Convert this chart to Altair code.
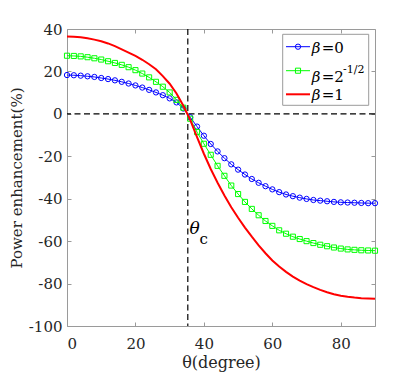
import altair as alt
import pandas as pd

# ---- data ----
theta = list(range(0, 91, 2))
beta0 = [18.3, 18.2, 18.0, 17.7, 17.4, 16.9, 16.4, 15.8, 15.1, 14.3,
         13.4, 12.4, 11.3, 10.1, 8.8, 7.3, 5.4, 2.5, -1.6, -6.0,
         -10.3, -14.2, -17.7, -20.9, -23.8, -26.3, -28.6, -30.7, -32.5, -34.1,
         -35.6, -36.9, -38.0, -38.8, -39.5, -40.1, -40.6, -40.9, -41.2, -41.5,
         -41.7, -41.8, -41.9, -42.0, -42.1, -42.1]
beta_half = [27.4, 27.3, 27.1, 26.7, 26.2, 25.6, 24.8, 24.0, 23.1, 22.0,
             20.6, 19.0, 17.2, 15.1, 12.8, 10.1, 6.6, 2.9, -2.3, -8.6,
             -14.1, -19.3, -24.5, -29.2, -33.8, -37.8, -41.5, -44.8, -47.8, -50.5,
             -52.8, -54.9, -56.5, -57.9, -59.0, -60.0, -60.9, -61.7, -62.4, -63.0,
             -63.5, -63.9, -64.1, -64.3, -64.4, -64.5]
beta1 = [36.5, 36.4, 36.1, 35.6, 35.0, 34.2, 33.2, 31.9, 30.4, 28.9,
         27.3, 25.5, 23.4, 21.0, 17.8, 14.2, 9.6, 3.8, -2.8, -11.0,
         -18.8, -26.0, -32.5, -38.5, -44.0, -49.0, -53.6, -57.9, -62.0, -65.7,
         -69.1, -72.0, -74.5, -76.7, -78.6, -80.3, -81.7, -83.0, -84.1, -85.0,
         -85.7, -86.2, -86.6, -86.9, -87.0, -87.1]

theta_c = [35.3]
zero_line = [0]
ann_theta = [35.8]      # position of the "θ" of θc
ann_theta_v = [-56.8]
ann_c = [38.7]          # position of the subscript "c"
ann_c_v = [-61.5]

x_ticks = [0, 20, 40, 60, 80]
y_ticks = [-100, -80, -60, -40, -20, 0, 20, 40]
legend_greek = ["β", "β", "β"]
legend_rest = ["=0", "=2", "=1"]
legend_sup = ["-1/2"]

# ---- styling ----
W, H = 308, 297
FONT = "DejaVu Serif"
GRAY = "#9a9a9a"
TXT = "#262626"
BLUE, GREEN, RED = "#0000ff", "#00ff00", "#ff0000"

xs = alt.Scale(domain=[0, 90], nice=False, zero=False)
ys = alt.Scale(domain=[-100, 40], nice=False, zero=False)

main_x = alt.Axis(orient="bottom", values=x_ticks, ticks=False, domain=False, grid=False,
                  labelFont=FONT, labelFontSize=15, labelColor=TXT, labelPadding=10,
                  labelExpr="'' + datum.value",
                  title="θ(degree)", titleFont=FONT, titleFontSize=16,
                  titleFontWeight="normal", titleColor=TXT, titleY=41,
                  titleBaseline="alphabetic")
main_y = alt.Axis(orient="left", values=y_ticks, ticks=False, domain=False, grid=False,
                  labelFont=FONT, labelFontSize=15, labelColor=TXT, labelPadding=5,
                  labelExpr="'' + datum.value",
                  title="Power enhancement(%)", titleFont=FONT, titleFontSize=15,
                  titleFontWeight="normal", titleColor=TXT, titleX=-46, titleY=H / 2,
                  titleAngle=270, titleAlign="center", titleBaseline="alphabetic")


def tick_axis(orient, values, offset):
    return alt.Axis(orient=orient, offset=offset, values=values, labels=False,
                    domain=False, grid=False, ticks=True, tickSize=4,
                    tickColor=GRAY, title="")


df0 = pd.DataFrame({"theta": theta, "v": beta0})
df1 = pd.DataFrame({"theta": theta, "v": beta_half})
df2 = pd.DataFrame({"theta": theta, "v": beta1})

blue_line = alt.Chart(df0).mark_line(color=BLUE, strokeWidth=1).encode(
    x=alt.X("theta:Q", scale=xs, axis=main_x),
    y=alt.Y("v:Q", scale=ys, axis=main_y))
blue_pts = alt.Chart(df0).mark_point(shape="circle", filled=False, color=BLUE,
                                     size=28, strokeWidth=1, opacity=1).encode(
    x=alt.X("theta:Q", scale=xs, axis=None),
    y=alt.Y("v:Q", scale=ys, axis=None))
green_line = alt.Chart(df1).mark_line(color=GREEN, strokeWidth=1).encode(
    x=alt.X("theta:Q", scale=xs, axis=tick_axis("top", x_ticks, -H)),
    y=alt.Y("v:Q", scale=ys, axis=tick_axis("right", y_ticks, -W)))
green_pts = alt.Chart(df1).mark_point(shape="square", filled=False, color=GREEN,
                                      size=26, strokeWidth=1, opacity=1).encode(
    x=alt.X("theta:Q", scale=xs, axis=None),
    y=alt.Y("v:Q", scale=ys, axis=None))
red_line = alt.Chart(df2).mark_line(color=RED, strokeWidth=2).encode(
    x=alt.X("theta:Q", scale=xs, axis=tick_axis("bottom", x_ticks, -H)),
    y=alt.Y("v:Q", scale=ys, axis=tick_axis("left", y_ticks, -W)))

vrule = alt.Chart(pd.DataFrame({"t": theta_c})).mark_rule(
    color="black", strokeWidth=1.2, strokeDash=[6, 3.5]).encode(
    x=alt.X("t:Q", scale=xs, axis=None))
hrule = alt.Chart(pd.DataFrame({"z": zero_line})).mark_rule(
    color="black", strokeWidth=1.2, strokeDash=[6, 3.5]).encode(
    y=alt.Y("z:Q", scale=ys, axis=None))

ann1 = alt.Chart(pd.DataFrame({"x": ann_theta, "y": ann_theta_v, "s": ["θ"]})).mark_text(
    align="left", baseline="alphabetic", font=FONT, fontSize=17, fontStyle="italic",
    color="black").encode(
    x=alt.X("x:Q", scale=xs, axis=None), y=alt.Y("y:Q", scale=ys, axis=None), text="s:N")
ann2 = alt.Chart(pd.DataFrame({"x": ann_c, "y": ann_c_v, "s": ["c"]})).mark_text(
    align="left", baseline="alphabetic", font=FONT, fontSize=15,
    color="black").encode(
    x=alt.X("x:Q", scale=xs, axis=None), y=alt.Y("y:Q", scale=ys, axis=None), text="s:N")

# ---- legend (drawn in pixel layout coordinates) ----
one = pd.DataFrame({"k": [0]})
row_y = [17.7, 41.7, 65.3]
base_y = [24.3, 52.7, 71.0]
colors = [BLUE, GREEN, RED]
widths = [1, 1, 2]

leg_layers = [
    alt.Chart(one).mark_rect(fill="white", stroke=GRAY, strokeWidth=1).encode(
        x=alt.value(215.7), x2=alt.value(301.7), y=alt.value(5.3), y2=alt.value(76.3))
]
for i in range(3):
    leg_layers.append(alt.Chart(one).mark_rule(color=colors[i], strokeWidth=widths[i]).encode(
        x=alt.value(219), x2=alt.value(243), y=alt.value(row_y[i])))
    leg_layers.append(alt.Chart(one).mark_text(
        align="left", baseline="alphabetic", font=FONT, fontSize=15, fontStyle="italic",
        color="black").encode(x=alt.value(244.7), y=alt.value(base_y[i]),
                              text=alt.value(legend_greek[i])))
    leg_layers.append(alt.Chart(one).mark_text(
        align="left", baseline="alphabetic", font=FONT, fontSize=15,
        color="black").encode(x=alt.value(254.7), y=alt.value(base_y[i]),
                              text=alt.value(legend_rest[i])))
leg_layers.append(alt.Chart(one).mark_point(shape="circle", filled=False, color=BLUE,
                                            size=28, strokeWidth=1, opacity=1).encode(
    x=alt.value(231), y=alt.value(row_y[0])))
leg_layers.append(alt.Chart(one).mark_point(shape="square", filled=False, color=GREEN,
                                            size=26, strokeWidth=1, opacity=1).encode(
    x=alt.value(231), y=alt.value(row_y[1])))
leg_layers.append(alt.Chart(one).mark_text(
    align="left", baseline="alphabetic", font=FONT, fontSize=11,
    color="black").encode(x=alt.value(276), y=alt.value(43.5),
                          text=alt.value(legend_sup[0])))

chart = alt.layer(
    hrule, vrule, blue_line, blue_pts, green_line, green_pts, red_line, ann1, ann2,
    *leg_layers
).resolve_axis(x="independent", y="independent").properties(
    width=W, height=H,
    autosize=alt.AutoSizeParams(type="none"),
    padding={"left": 59, "top": 21, "right": 32, "bottom": 46},
    background="white",
).configure_view(stroke=GRAY, strokeWidth=1)

chart.save("out.html", embed_options={"renderer": "svg", "actions": False})
